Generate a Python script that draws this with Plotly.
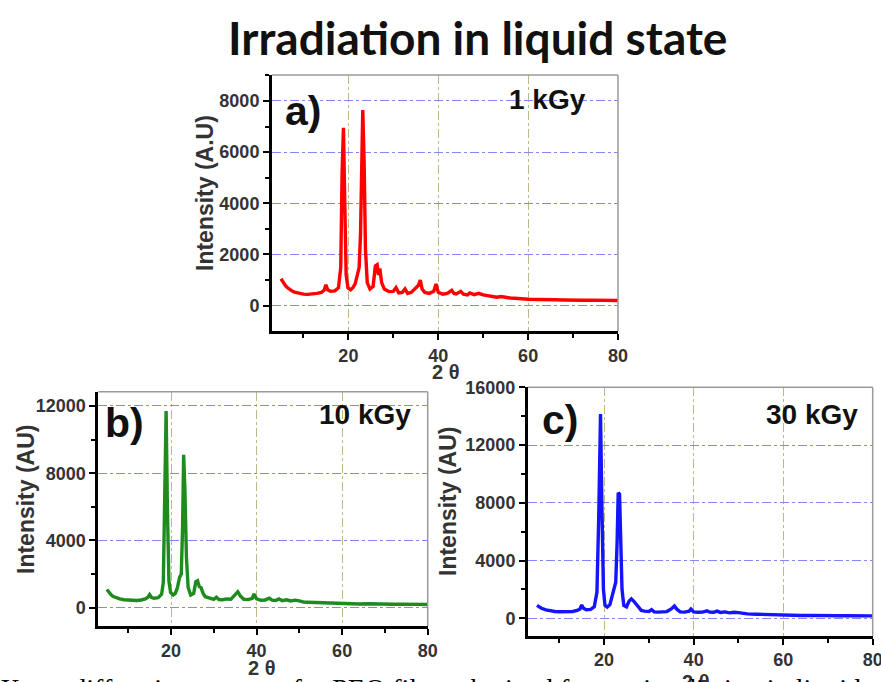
import plotly.graph_objects as go

# ---------------- data ----------------
two_theta_a = [5, 5.5, 6, 6.5, 7, 7.5, 8, 9, 10, 11, 12, 13, 14, 14.6, 15, 15.4, 16, 17, 17.8, 18.3,
               18.6, 18.9, 19.2, 19.5, 19.9, 20.5, 21, 21.5, 22, 22.4, 22.7, 22.95, 23.2, 23.5, 23.8,
               24.2, 24.8, 25.5, 26, 26.4, 26.7, 27, 27.4, 28, 29, 30, 30.6, 31.2, 32, 32.6, 33.2, 34,
               35, 35.6, 36, 36.4, 37, 38, 39, 39.5, 40, 41, 42, 43, 43.5, 44, 45, 45.6, 46.5, 47, 48,
               49, 50, 51, 52, 53, 54, 55, 56, 57, 58, 59, 60, 62, 64, 66, 68, 70, 72, 74, 76, 78, 80]
intensity_a = [1050, 900, 780, 690, 620, 570, 530, 480, 450, 440, 450, 480, 520, 600, 820, 620, 560,
               580, 700, 1500, 5200, 6950, 4000, 1200, 700, 620, 700, 850, 1200, 1500, 2800, 6600,
               7650, 5600, 2200, 900, 650, 750, 1550, 1600, 1200, 1450, 900, 650, 550, 560, 700, 500,
               520, 650, 480, 520, 700, 800, 1000, 650, 520, 480, 560, 850, 520, 450, 480, 600, 480,
               460, 560, 450, 420, 500, 430, 480, 420, 380, 350, 330, 360, 320, 300, 290, 270, 280,
               250, 240, 250, 230, 220, 230, 210, 215, 200, 210, 200]

two_theta_b = [5, 5.5, 6, 6.5, 7, 8, 9, 10, 11, 12, 13, 14, 14.6, 15, 15.4, 16, 17, 17.8, 18.2, 18.5,
               18.85, 19.15, 19.5, 19.9, 20.5, 21, 21.5, 22, 22.4, 22.7, 22.95, 23.25, 23.6, 24, 24.6,
               25.3, 25.8, 26.2, 26.6, 27, 27.5, 28, 29, 30, 30.6, 31.2, 32, 33, 34, 35, 35.6, 36.2,
               37, 38, 39, 39.4, 40, 41, 42, 43, 43.6, 44.5, 45.2, 46, 47, 48, 49, 50, 51, 52, 54, 56,
               58, 60, 62, 64, 66, 68, 70, 72, 74, 76, 78, 80]
intensity_b = [1080, 900, 760, 660, 600, 520, 470, 450, 430, 430, 460, 520, 620, 780, 620, 560, 600,
               800, 1500, 5500, 11700, 6000, 1600, 900, 750, 850, 1200, 1800, 2000, 4800, 9100, 7000,
               3000, 1200, 750, 850, 1550, 1600, 1250, 1200, 850, 650, 550, 500, 620, 480, 470, 520,
               500, 800, 950, 700, 500, 480, 560, 820, 520, 440, 460, 560, 450, 430, 520, 420, 470,
               400, 450, 410, 330, 320, 300, 280, 260, 240, 250, 220, 230, 210, 220, 200, 210, 190,
               200, 190]

two_theta_c = [5, 5.5, 6, 7, 8, 9, 10, 11, 12, 13, 14, 14.6, 15, 15.4, 16, 17, 17.8, 18.4, 18.8,
               19.2, 19.5, 19.85, 20.2, 20.7, 21.3, 21.8, 22.2, 22.6, 22.9, 23.15, 23.45, 23.7, 24.0,
               24.4, 25, 25.6, 26.1, 26.6, 27.1, 27.6, 28.3, 29, 30, 30.6, 31.2, 32, 33, 34, 35, 35.7,
               36.3, 37, 38, 39, 39.4, 40, 41, 42, 43, 43.6, 44.5, 45.2, 46, 47, 48, 49, 50, 51, 52,
               54, 56, 58, 60, 62, 64, 66, 68, 70, 72, 74, 76, 78, 80]
intensity_c = [900, 800, 700, 590, 520, 480, 460, 450, 460, 480, 550, 650, 920, 700, 600, 620, 800,
               1800, 7000, 14150, 8000, 2000, 900, 780, 950, 1500, 1900, 2500, 5200, 8700, 8600, 5000,
               2000, 900, 800, 1200, 1350, 1200, 1000, 750, 550, 500, 480, 600, 450, 430, 480, 470,
               650, 850, 620, 450, 430, 500, 650, 450, 420, 430, 520, 430, 420, 500, 410, 450, 380,
               420, 400, 330, 310, 290, 270, 230, 220, 210, 200, 210, 190, 200, 180, 190, 170, 180,
               170]

panel_letters = ["a)", "b)", "c)"]
dose_labels = ["1 kGy", "10 kGy", "30 kGy"]
y_titles = ["Intensity (A.U)", "Intensity (AU)", "Intensity (AU)"]
x_title = "2 θ"
main_title = "Irradiation in liquid state"
caption = "X-ray diffraction patterns for PEO films obtained from γ-irradiation in liquid state"

# ---------------- layout helpers ----------------
W, H = 881, 682
def fx(p):
    return p / W
def fy(p):
    return 1 - p / H

AX_FONT = dict(family="Liberation Sans", size=18, color="#333333", weight="bold")
BLUE_GRID = "#8585ff"
OLIVE_GRID = "#bdb885"

def xaxis(domain, anchor):
    return dict(domain=domain, anchor=anchor, range=[3, 80], tickmode="linear", tick0=0, dtick=20,
                ticks="outside", ticklen=6, tickwidth=2, tickcolor="black", automargin=False,
                ticklabeloverflow="allow",
                showline=True, linewidth=3, linecolor="black", mirror=False,
                showgrid=True, gridcolor=OLIVE_GRID, griddash="dashdot", gridwidth=1,
                zeroline=False, tickfont=AX_FONT, tickformat="d",
                minor=dict(ticks="outside", ticklen=4, tickwidth=2, tickcolor="black",
                           tick0=0, dtick=10, showgrid=False))

def yaxis(domain, anchor, rng, dtick):
    return dict(domain=domain, anchor=anchor, range=rng, tickmode="linear", tick0=0, dtick=dtick,
                ticks="outside", ticklen=6, tickwidth=2, tickcolor="black", automargin=False,
                ticklabeloverflow="allow",
                showline=True, linewidth=3, linecolor="black", mirror=False,
                showgrid=True, gridcolor=BLUE_GRID, griddash="dashdot", gridwidth=1,
                zeroline=False, tickfont=AX_FONT, tickformat="d",
                minor=dict(ticks="outside", ticklen=4, tickwidth=2, tickcolor="black",
                           tick0=0, dtick=dtick / 2, showgrid=False))

fig = go.Figure()
series = [
    (two_theta_a, intensity_a, "x", "y", "#ff0000"),
    (two_theta_b, intensity_b, "x2", "y2", "#1d8c1d"),
    (two_theta_c, intensity_c, "x3", "y3", "#1414ff"),
]
for xs, ys, xa, ya, col in series:
    fig.add_trace(go.Scatter(x=xs, y=ys, xaxis=xa, yaxis=ya, mode="lines",
                             line=dict(color=col, width=3.4), showlegend=False,
                             hoverinfo="skip"))

fig.update_layout(
    width=W, height=H, margin=dict(l=0, r=0, t=0, b=0, autoexpand=False),
    paper_bgcolor="white", plot_bgcolor="white", showlegend=False,
    xaxis=xaxis([fx(272), fx(618)], "y"),
    yaxis=yaxis([fy(331), fy(75)], "x", [-990, 9015], 2000),
    xaxis2=xaxis([fx(98.3), fx(427.7)], "y2"),
    yaxis2=yaxis([fy(626), fy(391.7)], "x2", [-1090, 12850], 4000),
    xaxis3=xaxis([fx(528), fx(872.7)], "y3"),
    yaxis3=yaxis([fy(635.7), fy(387.3)], "x3", [-1200, 16000], 4000),
)

# thin grey top/right frame
shapes = []
for xa, ya in [("x", "y"), ("x2", "y2"), ("x3", "y3")]:
    xr, yr = xa + " domain", ya + " domain"
    shapes.append(dict(type="line", xref=xr, yref=yr, x0=0, x1=1, y0=1, y1=1,
                       line=dict(color="#9a9a9a", width=1.5)))
    shapes.append(dict(type="line", xref=xr, yref=yr, x0=1, x1=1, y0=0, y1=1,
                       line=dict(color="#9a9a9a", width=1.5)))
fig.update_layout(shapes=shapes)

ann = []
# main title
ann.append(dict(text=main_title, x=fx(477), y=fy(38), xref="paper", yref="paper",
                xanchor="center", yanchor="middle", showarrow=False,
                font=dict(family="Lato", size=46, color="#111111", weight="bold")))
# panel letters & doses
letter_pos = [(303, 111), (124, 423), (560, 420)]
dose_pos = [(588, 100), (413, 414), (860, 414)]
for i in range(3):
    ann.append(dict(text=panel_letters[i], x=fx(letter_pos[i][0]), y=fy(letter_pos[i][1]),
                    xref="paper", yref="paper", xanchor="center", yanchor="middle",
                    showarrow=False,
                    font=dict(family="Liberation Sans", size=41, color="#111111", weight="bold")))
    ann.append(dict(text=dose_labels[i], x=fx(dose_pos[i][0]), y=fy(dose_pos[i][1]),
                    xref="paper", yref="paper", xanchor="right", yanchor="middle",
                    showarrow=False,
                    font=dict(family="Liberation Sans", size=28, color="#111111", weight="bold")))
# y titles
ytitle_pos = [(205, 193), (26, 499), (448, 501)]
for i in range(3):
    ann.append(dict(text=y_titles[i], x=fx(ytitle_pos[i][0]), y=fy(ytitle_pos[i][1]),
                    xref="paper", yref="paper", xanchor="center", yanchor="middle",
                    textangle=-90, showarrow=False,
                    font=dict(family="Liberation Sans", size=23, color="#333333", weight="bold")))
# x titles
xtitle_pos = [(446, 372), (262, 668), (696, 682)]
for i in range(3):
    ann.append(dict(text=x_title, x=fx(xtitle_pos[i][0]), y=fy(xtitle_pos[i][1]),
                    xref="paper", yref="paper", xanchor="center", yanchor="middle",
                    showarrow=False,
                    font=dict(family="Liberation Sans", size=20, color="#333333", weight="bold")))
# caption (cut at the bottom edge)
ann.append(dict(text=caption, x=fx(-2), y=fy(671), xref="paper", yref="paper",
                xanchor="left", yanchor="top", showarrow=False,
                font=dict(family="Liberation Serif", size=28, color="#000000")))
fig.update_layout(annotations=ann)

fig.write_html("out.html")
